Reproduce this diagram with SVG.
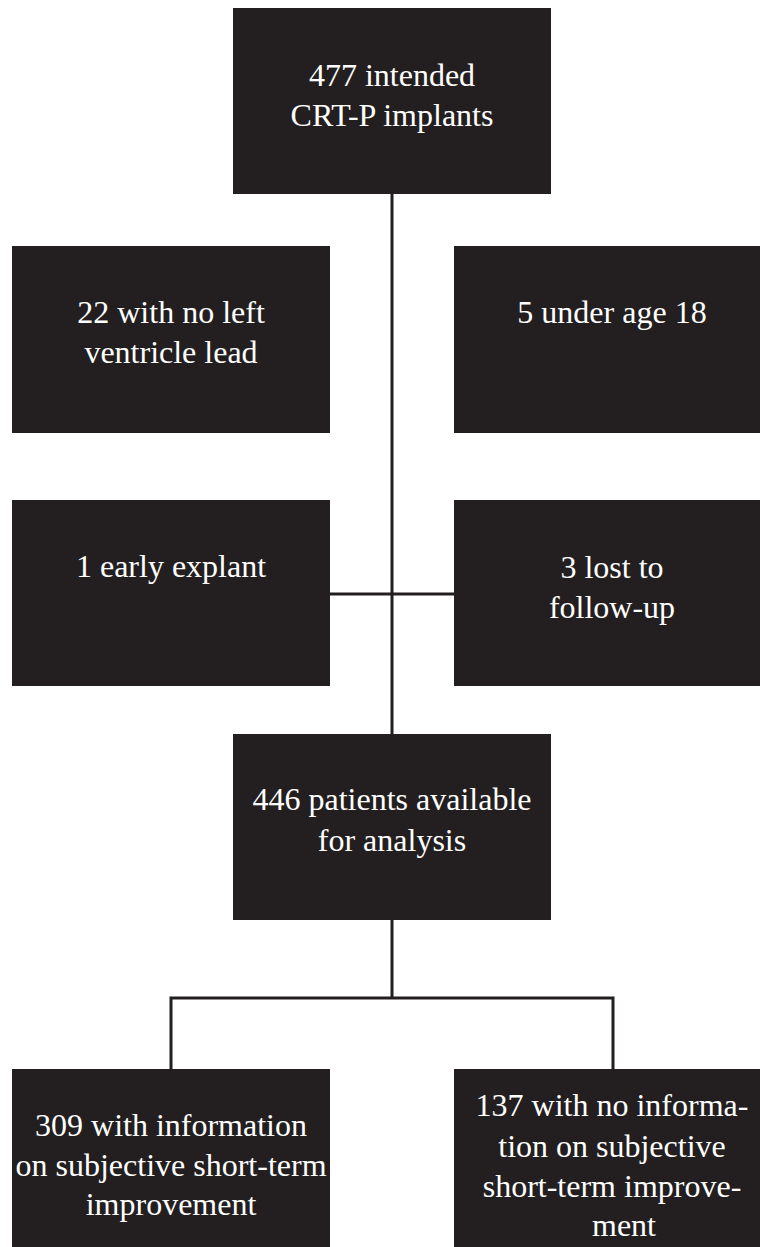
<svg xmlns="http://www.w3.org/2000/svg" width="760" height="1247" viewBox="0 0 760 1247">
<style>
.box{fill:#231f20;}
.t{font-family:"Liberation Serif","Times New Roman",serif;font-size:32px;fill:#ffffff;text-anchor:middle;}
.c{stroke:#231f20;stroke-width:3;fill:none;}
</style>
<rect width="760" height="1247" fill="#ffffff"/>
<g id="connectors">
<path class="c" d="M392 194 V734"/>
<path class="c" d="M330 594 H454"/>
<path class="c" d="M392 920 V998"/>
<path class="c" d="M171 1069 V998 H613 V1069"/>
</g>
<g id="n-top">
<rect class="box" x="233" y="8" width="318" height="186"/>
<text class="t" x="392" y="86">477 intended</text>
<text class="t" x="392" y="126">CRT-P implants</text>
</g>
<g id="n-lv">
<rect class="box" x="12" y="246" width="318" height="187"/>
<text class="t" x="171" y="323">22 with no left</text>
<text class="t" x="171" y="363">ventricle lead</text>
</g>
<g id="n-age">
<rect class="box" x="454" y="246" width="318" height="187"/>
<text class="t" x="612" y="323">5 under age 18</text>
</g>
<g id="n-explant">
<rect class="box" x="12" y="500" width="318" height="186"/>
<text class="t" x="171" y="577">1 early explant</text>
</g>
<g id="n-lost">
<rect class="box" x="454" y="500" width="318" height="186"/>
<text class="t" x="612" y="578">3 lost to</text>
<text class="t" x="612" y="618">follow-up</text>
</g>
<g id="n-avail">
<rect class="box" x="233" y="734" width="318" height="186"/>
<text class="t" x="392" y="810">446 patients available</text>
<text class="t" x="392" y="851">for analysis</text>
</g>
<g id="n-info">
<rect class="box" x="12" y="1069" width="318" height="190"/>
<text class="t" x="171" y="1136">309 with information</text>
<text class="t" x="171" y="1176">on subjective short-term</text>
<text class="t" x="171" y="1215">improvement</text>
</g>
<g id="n-noinfo">
<rect class="box" x="454" y="1069" width="318" height="190"/>
<text class="t" x="612" y="1116">137 with no informa-</text>
<text class="t" x="612" y="1157">tion on subjective</text>
<text class="t" x="612" y="1197">short-term improve-</text>
<text class="t" x="624" y="1236">ment</text>
</g>
</svg>
